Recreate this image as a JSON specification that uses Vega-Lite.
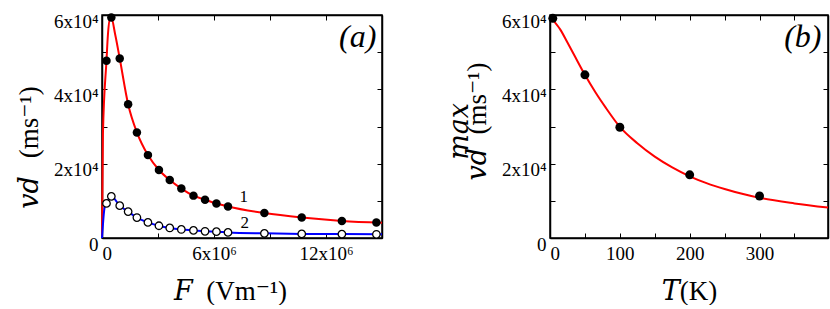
{
  "$schema": "https://vega.github.io/schema/vega-lite/v6.json",
  "background": "white",
  "padding": {"left": 14, "top": 11, "right": 0, "bottom": 0},
  "bounds": "flush",
  "spacing": 168,
  "datasets": {
    "aRed": [
      {"F": 0, "v": 0}, {"F": 50000, "v": 28000}, {"F": 240000, "v": 47700}, {"F": 320000, "v": 54900},
      {"F": 470000, "v": 59700}, {"F": 720000, "v": 54400}, {"F": 950000, "v": 48300}, {"F": 1400000, "v": 36000},
      {"F": 1870000, "v": 28400}, {"F": 2460000, "v": 22300}, {"F": 3050000, "v": 18300}, {"F": 3630000, "v": 15600},
      {"F": 4250000, "v": 13300}, {"F": 4900000, "v": 11400}, {"F": 5520000, "v": 10300}, {"F": 6130000, "v": 9300},
      {"F": 6750000, "v": 8500}, {"F": 8700000, "v": 6700}, {"F": 10700000, "v": 5500}, {"F": 12850000, "v": 4600},
      {"F": 15000000, "v": 4100}
    ],
    "aBlue": [
      {"F": 0, "v": 0}, {"F": 140000, "v": 8200}, {"F": 240000, "v": 9300}, {"F": 500000, "v": 11200},
      {"F": 950000, "v": 8700}, {"F": 1400000, "v": 7100}, {"F": 1870000, "v": 5500}, {"F": 2460000, "v": 4200},
      {"F": 3050000, "v": 3300}, {"F": 3630000, "v": 2700}, {"F": 4250000, "v": 2300}, {"F": 4900000, "v": 2050},
      {"F": 5520000, "v": 1800}, {"F": 6130000, "v": 1700}, {"F": 6750000, "v": 1500}, {"F": 8700000, "v": 1250},
      {"F": 10700000, "v": 1100}, {"F": 12850000, "v": 1050}, {"F": 15000000, "v": 1000}
    ],
    "aFilled": [
      {"F": 240000, "v": 47700}, {"F": 500000, "v": 59300}, {"F": 950000, "v": 48300}, {"F": 1400000, "v": 36000},
      {"F": 1870000, "v": 28400}, {"F": 2460000, "v": 22300}, {"F": 3050000, "v": 18300}, {"F": 3630000, "v": 15600},
      {"F": 4250000, "v": 13300}, {"F": 4900000, "v": 11400}, {"F": 5520000, "v": 10300}, {"F": 6130000, "v": 9300},
      {"F": 6750000, "v": 8500}, {"F": 8700000, "v": 6700}, {"F": 10700000, "v": 5500}, {"F": 12850000, "v": 4600},
      {"F": 14700000, "v": 4200}
    ],
    "aOpen": [
      {"F": 240000, "v": 9300}, {"F": 500000, "v": 11200}, {"F": 950000, "v": 8700}, {"F": 1400000, "v": 7100},
      {"F": 1870000, "v": 5500}, {"F": 2460000, "v": 4200}, {"F": 3050000, "v": 3300}, {"F": 3630000, "v": 2700},
      {"F": 4250000, "v": 2300}, {"F": 4900000, "v": 2050}, {"F": 5520000, "v": 1800}, {"F": 6130000, "v": 1700},
      {"F": 6750000, "v": 1500}, {"F": 8700000, "v": 1250}, {"F": 10700000, "v": 1100}, {"F": 12850000, "v": 1050},
      {"F": 14700000, "v": 1000}
    ],
    "aCurveLabels": [
      {"F": 7600000, "v": 11100, "label": "1"},
      {"F": 7650000, "v": 4000, "label": "2"}
    ],
    "aPanel": [{"F": 13700000, "v": 54000, "label": "(a)"}],
    "bLine": [
      {"T": 0, "v": 59500}, {"T": 15, "v": 56000}, {"T": 25, "v": 52600}, {"T": 35, "v": 49100},
      {"T": 50, "v": 43900}, {"T": 65, "v": 39200}, {"T": 80, "v": 35000}, {"T": 100, "v": 29900},
      {"T": 125, "v": 25500}, {"T": 150, "v": 21900}, {"T": 175, "v": 19000}, {"T": 200, "v": 16600},
      {"T": 225, "v": 14700}, {"T": 250, "v": 13200}, {"T": 275, "v": 11900}, {"T": 300, "v": 10800},
      {"T": 350, "v": 9300}, {"T": 398, "v": 8200}
    ],
    "bPoints": [
      {"T": 4, "v": 59100}, {"T": 50, "v": 43900}, {"T": 100, "v": 29800}, {"T": 200, "v": 17000}, {"T": 300, "v": 11300}
    ],
    "bPanel": [{"T": 362, "v": 54000, "label": "(b)"}]
  },
  "config": {
    "view": {"stroke": "black", "strokeWidth": 1.5},
    "style": {
      "guide-label": {"font": "Liberation Serif, DejaVu Serif"},
      "guide-title": {"font": "Liberation Serif, DejaVu Serif"}
    },
    "axis": {
      "grid": false,
      "domain": true,
      "domainColor": "black",
      "domainWidth": 1.5,
      "tickColor": "black",
      "tickWidth": 1,
      "labelColor": "black",
      "titleColor": "black",
      "labelFont": "Liberation Serif, DejaVu Serif",
      "titleFont": "Liberation Serif, DejaVu Serif",
      "labelFontSize": 19,
      "titleFontSize": 27,
      "titleFontWeight": "normal"
    },
    "text": {"font": "Liberation Serif", "color": "black"}
  },
  "hconcat": [
    {
      "width": 280,
      "height": 223,
      "layer": [
        {
          "data": {"name": "aRed"},
          "mark": {"type": "line", "color": "#ff0000", "strokeWidth": 2, "interpolate": "monotone"},
          "encoding": {
            "x": {"field": "F", "type": "quantitative", "scale": {"domain": [0, 15000000], "nice": false},
              "axis": {"orient": "bottom", "values": [0, 3000000, 6000000, 9000000, 12000000, 15000000], "tickSize": -5, "labelPadding": 11,
                "labelExpr": "datum.value == 0 ? '0' : (datum.value % 6000000 == 0 ? format(datum.value / 1000000, 'd') + 'x10⁶' : '')",
                "title": "𝐹\u2002(Vm⁻¹)", "titlePadding": 15, "titleX": 128}},
            "y": {"field": "v", "type": "quantitative", "scale": {"domain": [0, 60000], "nice": false},
              "axis": {"orient": "left", "values": [0, 10000, 20000, 30000, 40000, 50000, 60000], "tickSize": -5, "labelPadding": 9, "labelOffset": 6,
                "labelExpr": "datum.value == 0 ? '0' : (datum.value % 20000 == 0 ? format(datum.value / 10000, 'd') + 'x10⁴' : '')",
                "title": "𝑣𝑑\u2002\u2006(ms⁻¹)", "titlePadding": 10, "titleY": 132}}
          }
        },
        {
          "data": {"name": "aBlue"},
          "mark": {"type": "line", "color": "#0000ff", "strokeWidth": 2, "interpolate": "monotone"},
          "encoding": {
            "x": {"field": "F", "type": "quantitative",
              "axis": {"orient": "top", "values": [0, 3000000, 6000000, 9000000, 12000000, 15000000], "tickSize": -5, "labels": false, "title": null}},
            "y": {"field": "v", "type": "quantitative",
              "axis": {"orient": "right", "values": [0, 10000, 20000, 30000, 40000, 50000, 60000], "tickSize": -5, "labels": false, "title": null}}
          }
        },
        {
          "data": {"name": "aFilled"},
          "mark": {"type": "point", "filled": true, "color": "black", "size": 72, "opacity": 1},
          "encoding": {
            "x": {"field": "F", "type": "quantitative", "axis": null},
            "y": {"field": "v", "type": "quantitative", "axis": null}
          }
        },
        {
          "data": {"name": "aOpen"},
          "mark": {"type": "point", "filled": false, "fill": "white", "fillOpacity": 1, "stroke": "black", "strokeWidth": 1.3, "size": 56, "opacity": 1},
          "encoding": {
            "x": {"field": "F", "type": "quantitative", "axis": null},
            "y": {"field": "v", "type": "quantitative", "axis": null}
          }
        },
        {
          "data": {"name": "aCurveLabels"},
          "mark": {"type": "text", "fontSize": 17, "align": "center", "baseline": "middle"},
          "encoding": {
            "x": {"field": "F", "type": "quantitative", "axis": null},
            "y": {"field": "v", "type": "quantitative", "axis": null},
            "text": {"field": "label"}
          }
        },
        {
          "data": {"name": "aPanel"},
          "mark": {"type": "text", "fontSize": 32, "fontStyle": "italic", "align": "center", "baseline": "middle"},
          "encoding": {
            "x": {"field": "F", "type": "quantitative", "axis": null},
            "y": {"field": "v", "type": "quantitative", "axis": null},
            "text": {"field": "label"}
          }
        }
      ],
      "resolve": {"axis": {"x": "independent", "y": "independent"}}
    },
    {
      "width": 278,
      "height": 223,
      "layer": [
        {
          "data": {"name": "bLine"},
          "mark": {"type": "line", "color": "#ff0000", "strokeWidth": 2, "interpolate": "monotone"},
          "encoding": {
            "x": {"field": "T", "type": "quantitative", "scale": {"domain": [0, 398], "nice": false},
              "axis": {"orient": "bottom", "values": [0, 50, 100, 150, 200, 250, 300, 350], "tickSize": -5, "labelPadding": 11,
                "labelExpr": "datum.value % 100 == 0 ? format(datum.value, 'd') : ''",
                "title": "𝑇(K)", "titlePadding": 15}},
            "y": {"field": "v", "type": "quantitative", "scale": {"domain": [0, 60000], "nice": false},
              "axis": {"orient": "left", "values": [0, 10000, 20000, 30000, 40000, 50000, 60000], "tickSize": -5, "labelPadding": 9, "labelOffset": 6,
                "labelExpr": "datum.value == 0 ? '0' : (datum.value % 20000 == 0 ? format(datum.value / 10000, 'd') + 'x10⁴' : '')",
                "title": ["𝑚𝑎𝑥\u2800", "𝑣𝑑\u2002(ms⁻¹)"], "titlePadding": 10, "titleLineHeight": 18, "titleAlign": "center", "titleY": 106}}
          }
        },
        {
          "data": {"name": "bPoints"},
          "mark": {"type": "point", "filled": true, "color": "black", "size": 80, "opacity": 1},
          "encoding": {
            "x": {"field": "T", "type": "quantitative",
              "axis": {"orient": "top", "values": [0, 50, 100, 150, 200, 250, 300, 350], "tickSize": -5, "labels": false, "title": null}},
            "y": {"field": "v", "type": "quantitative",
              "axis": {"orient": "right", "values": [0, 10000, 20000, 30000, 40000, 50000, 60000], "tickSize": -5, "labels": false, "title": null}}
          }
        },
        {
          "data": {"name": "bPanel"},
          "mark": {"type": "text", "fontSize": 32, "fontStyle": "italic", "align": "center", "baseline": "middle"},
          "encoding": {
            "x": {"field": "T", "type": "quantitative", "axis": null},
            "y": {"field": "v", "type": "quantitative", "axis": null},
            "text": {"field": "label"}
          }
        }
      ],
      "resolve": {"axis": {"x": "independent", "y": "independent"}}
    }
  ]
}
